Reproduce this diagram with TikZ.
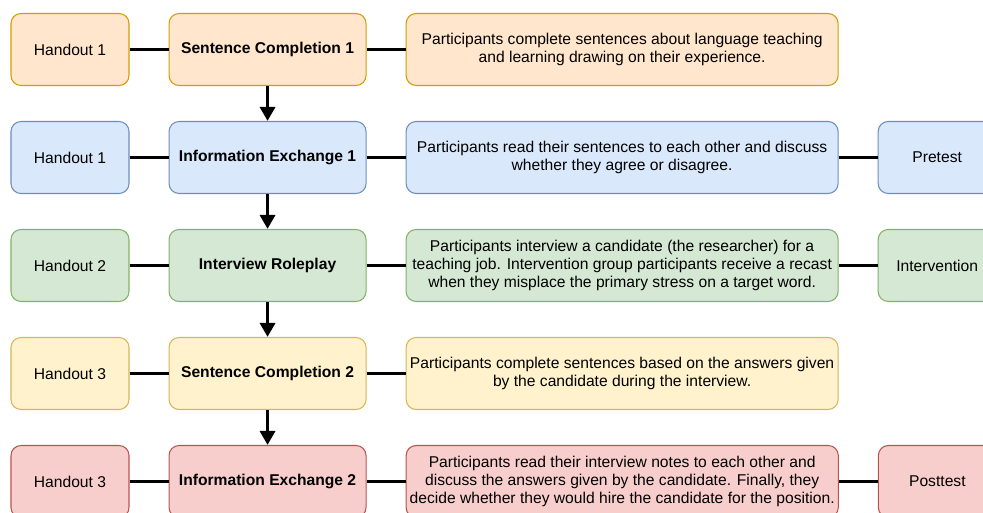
\documentclass[tikz,border=0pt]{standalone}
\usepackage{fontspec}
\setmainfont{Liberation Sans}
\usetikzlibrary{arrows.meta, positioning}
\definecolor{peachfill}{HTML}{FFE6CC}
\definecolor{peachline}{HTML}{D79B00}
\definecolor{skyfill}{HTML}{DAE8FC}
\definecolor{skyline}{HTML}{6C8EBF}
\definecolor{mintfill}{HTML}{D5E8D4}
\definecolor{mintline}{HTML}{82B366}
\definecolor{creamfill}{HTML}{FFF2CC}
\definecolor{creamline}{HTML}{D6B656}
\definecolor{rosefill}{HTML}{F8CECC}
\definecolor{roseline}{HTML}{B85450}
\tikzset{
    >={Triangle[width=8.5pt, length=8pt]},
    box/.style={draw, rounded corners=0.2cm, line width=0.6pt, minimum height=1.44cm,
        inner sep=2pt, align=center, font=\fontsize{8.9}{10.1}\selectfont},
    handout/.style={box, minimum width=2.36cm},
    activity/.style={box, minimum width=3.94cm, font=\fontsize{8.9}{10.1}\selectfont\bfseries},
    summary/.style={box, minimum width=8.64cm},
    phase/.style={box, minimum width=2.36cm},
    peach/.style={fill=peachfill, draw=peachline},
    sky/.style={fill=skyfill, draw=skyline},
    mint/.style={fill=mintfill, draw=mintline},
    cream/.style={fill=creamfill, draw=creamline},
    rose/.style={fill=rosefill, draw=roseline},
    link/.style={line width=1.2pt},
    flow/.style={->, line width=2pt},
}
\begin{document}
\begin{tikzpicture}[node distance=0.72cm and 0.78cm]
    \useasboundingbox (0,0) rectangle (19.66,-10.26);
    \foreach \i/\tone/\sheet/\task/\about in {
        1/peach/1/Sentence Completion 1/{Participants complete sentences about language teaching\\and learning drawing on their experience.},
        2/sky/1/Information Exchange 1/{Participants read their sentences to each other and discuss\\whether they agree or disagree.},
        3/mint/2/Interview Roleplay/{Participants interview a candidate (the researcher) for a\\teaching job. Intervention group participants receive a recast\\when they misplace the primary stress on a target word.},
        4/cream/3/Sentence Completion 2/{Participants complete sentences based on the answers given\\by the candidate during the interview.},
        5/rose/3/Information Exchange 2/{Participants read their interview notes to each other and\\discuss the answers given by the candidate. Finally, they\\decide whether they would hire the candidate for the position.}} {
        \node[handout, \tone] (h\i) at (1.40, {-0.99-2.16*(\i-1)}) {Handout \sheet};
        \node[activity, \tone, right=of h\i] (a\i) {\task};
        \node[summary, \tone, right=of a\i] (s\i) {\about};
        \draw[link] (h\i) -- (a\i);
        \draw[link] (a\i) -- (s\i);
    };
    % test phases on the right
    \node[phase, sky, right=of s2] (p2) {Pretest};
    \node[phase, mint, right=of s3] (p3) {Intervention};
    \node[phase, rose, right=of s5] (p5) {Posttest};
    \foreach \n in {2,3,5} \draw[link] (s\n) -- (p\n);
    \foreach \i [evaluate=\i as \j using int(\i+1)] in {1,...,4} \draw[flow] (a\i) -- (a\j);
\end{tikzpicture}
\end{document}
